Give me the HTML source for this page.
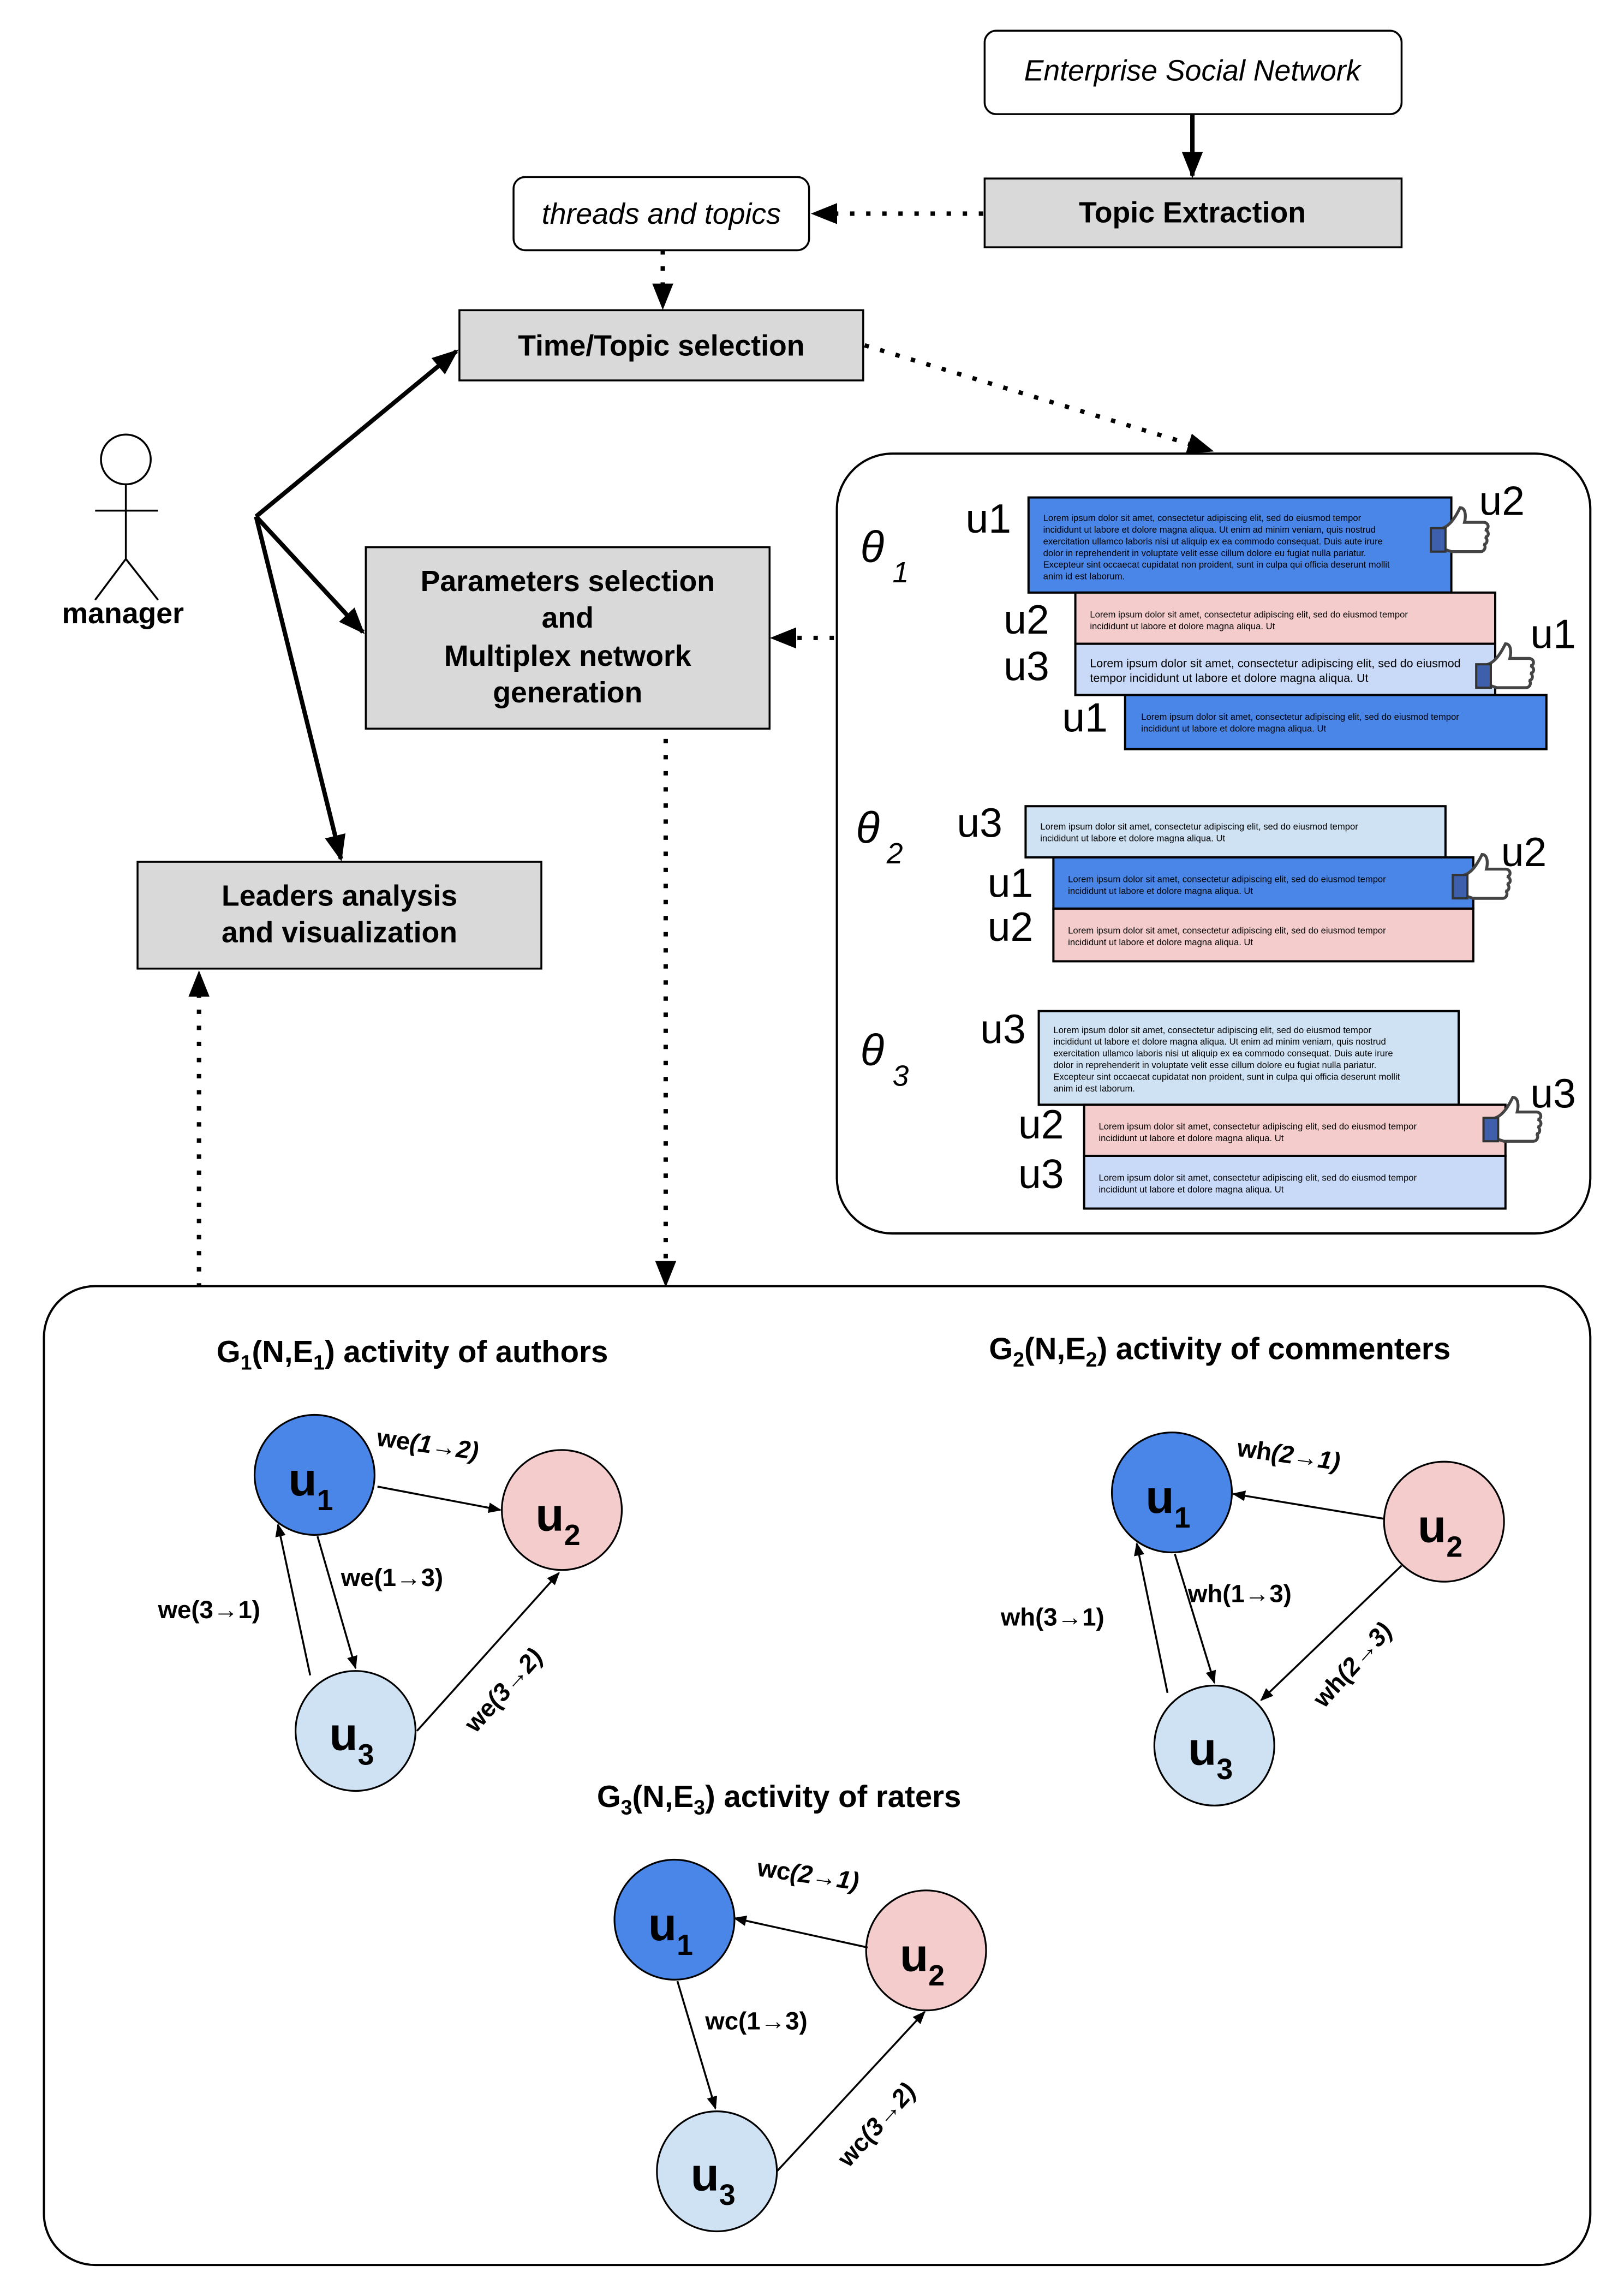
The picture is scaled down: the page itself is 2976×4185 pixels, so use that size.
<!DOCTYPE html>
<html><head><meta charset="utf-8"><style>html,body{margin:0;padding:0;background:#fff}svg{display:block}</style></head>
<body>
<svg width="2976" height="4185" viewBox="0 0 1110 1561" xmlns="http://www.w3.org/2000/svg" font-family="Liberation Sans, Arial, sans-serif">
<defs>
<marker id="ah" viewBox="0 0 10 10" refX="9" refY="5" markerWidth="6" markerHeight="6" orient="auto" markerUnits="userSpaceOnUse"><path d="M0,0 L10,5 L0,10 z" fill="#000"/></marker>
<marker id="ab" viewBox="0 0 10 10" refX="9" refY="5" markerWidth="18" markerHeight="18" orient="auto" markerUnits="userSpaceOnUse"><path d="M0,1 L10,5 L0,9 z" fill="#000"/></marker>
<marker id="as" viewBox="0 0 10 10" refX="9" refY="5" markerWidth="9" markerHeight="9" orient="auto" markerUnits="userSpaceOnUse"><path d="M0,1 L10,5 L0,9 z" fill="#000"/></marker>
<g id="thumb"><path d="M0,14 C6,12 10,4 12,0 C16,0 16,6 15,10 L28,10 C32,10 32,15 29,15 C32,16 32,20 29,20 C31,21 31,25 28,25 C30,26 29,30 26,30 L6,30 L0,28 Z" fill="#fff" stroke="#444" stroke-width="2"/><rect x="-8" y="14" width="10" height="16" fill="#3d5fac" stroke="#333" stroke-width="1.5"/></g>
</defs>
<!-- top boxes -->
<rect x="673" y="21" width="285" height="57" rx="8" fill="#fff" stroke="#000" stroke-width="1.3"/>
<text x="815" y="55" font-size="20" font-style="italic" text-anchor="middle">Enterprise Social Network</text>
<rect x="673" y="122" width="285" height="47" fill="#d9d9d9" stroke="#000" stroke-width="1.3"/>
<text x="815" y="152" font-size="20" font-weight="bold" text-anchor="middle">Topic Extraction</text>
<rect x="351" y="121" width="202" height="50" rx="8" fill="#fff" stroke="#000" stroke-width="1.3"/>
<text x="452" y="153" font-size="20" font-style="italic" text-anchor="middle">threads and topics</text>
<rect x="314" y="212" width="276" height="48" fill="#d9d9d9" stroke="#000" stroke-width="1.3"/>
<text x="452" y="243" font-size="20" font-weight="bold" text-anchor="middle">Time/Topic selection</text>
<rect x="250" y="374" width="276" height="124" fill="#d9d9d9" stroke="#000" stroke-width="1.3"/>
<g font-size="20" font-weight="bold" text-anchor="middle"><text x="388" y="404">Parameters selection</text><text x="388" y="429">and</text><text x="388" y="455">Multiplex network</text><text x="388" y="480">generation</text></g>
<rect x="94" y="589" width="276" height="73" fill="#d9d9d9" stroke="#000" stroke-width="1.3"/>
<g font-size="20" font-weight="bold" text-anchor="middle"><text x="232" y="619">Leaders analysis</text><text x="232" y="644">and visualization</text></g>
<!-- manager -->
<g stroke="#000" stroke-width="1.3" fill="none"><circle cx="86" cy="314" r="17" fill="#fff"/><line x1="86" y1="331" x2="86" y2="382"/><line x1="65" y1="349" x2="108" y2="349"/><line x1="86" y1="382" x2="65" y2="410"/><line x1="86" y1="382" x2="108" y2="410"/></g>
<text x="84" y="426" font-size="20" font-weight="bold" text-anchor="middle">manager</text>
<!-- arrows -->
<g stroke="#000" stroke-width="3" fill="none">
<line x1="815" y1="78" x2="815" y2="120" marker-end="url(#ab)"/>
<line x1="175" y1="353" x2="312" y2="240" marker-end="url(#ab)"/>
<line x1="175" y1="353" x2="248" y2="432" marker-end="url(#ab)"/>
<line x1="175" y1="353" x2="233" y2="587" marker-end="url(#ab)"/>
</g>
<g stroke="#000" stroke-width="3" fill="none" stroke-dasharray="3,8">
<line x1="672" y1="146" x2="556" y2="146" marker-end="url(#ab)"/>
<line x1="453" y1="171" x2="453" y2="210" marker-end="url(#ab)"/>
<line x1="591" y1="236" x2="828" y2="308" marker-end="url(#ab)"/>
<line x1="570" y1="436" x2="528" y2="436" marker-end="url(#ab)"/>
<line x1="455" y1="505" x2="455" y2="878" marker-end="url(#ab)"/>
<line x1="136" y1="880" x2="136" y2="665" marker-end="url(#ab)"/>
</g>
<!-- theta panel -->
<rect x="572" y="310" width="515" height="533" rx="38" fill="#fff" stroke="#000" stroke-width="1.5"/>
<g font-size="30" font-style="italic"><text x="588" y="384">θ</text><text x="610" y="398" font-size="20">1</text>
<text x="585" y="576">θ</text><text x="606" y="590" font-size="20">2</text>
<text x="588" y="728">θ</text><text x="610" y="742" font-size="20">3</text></g>
<g stroke="#000" stroke-width="1.5">
<rect x="703" y="340" width="289" height="65" fill="#4a86e8"/>
<rect x="735" y="405" width="287" height="35" fill="#f4cccc"/>
<rect x="735" y="440" width="287" height="35" fill="#c9daf8"/>
<rect x="769" y="475" width="288" height="37" fill="#4a86e8"/>
<rect x="701" y="551" width="287" height="35" fill="#cfe2f3"/>
<rect x="720" y="586" width="287" height="35" fill="#4a86e8"/>
<rect x="720" y="621" width="287" height="36" fill="#f4cccc"/>
<rect x="710" y="691" width="287" height="64" fill="#cfe2f3"/>
<rect x="741" y="755" width="288" height="35" fill="#f4cccc"/>
<rect x="741" y="790" width="288" height="36" fill="#c9daf8"/>
</g>
<g font-size="6.2">
<text x="713" y="356">Lorem ipsum dolor sit amet, consectetur adipiscing elit, sed do eiusmod tempor</text>
<text x="713" y="364">incididunt ut labore et dolore magna aliqua. Ut enim ad minim veniam, quis nostrud</text>
<text x="713" y="372">exercitation ullamco laboris nisi ut aliquip ex ea commodo consequat. Duis aute irure</text>
<text x="713" y="380">dolor in reprehenderit in voluptate velit esse cillum dolore eu fugiat nulla pariatur.</text>
<text x="713" y="388">Excepteur sint occaecat cupidatat non proident, sunt in culpa qui officia deserunt mollit</text>
<text x="713" y="396">anim id est laborum.</text>
<text x="745" y="422">Lorem ipsum dolor sit amet, consectetur adipiscing elit, sed do eiusmod tempor</text><text x="745" y="430">incididunt ut labore et dolore magna aliqua. Ut</text>
<text x="745" y="456" font-size="8">Lorem ipsum dolor sit amet, consectetur adipiscing elit, sed do eiusmod</text><text x="745" y="466" font-size="8">tempor incididunt ut labore et dolore magna aliqua. Ut</text>
<text x="780" y="492">Lorem ipsum dolor sit amet, consectetur adipiscing elit, sed do eiusmod tempor</text><text x="780" y="500">incididunt ut labore et dolore magna aliqua. Ut</text>
<text x="711" y="567">Lorem ipsum dolor sit amet, consectetur adipiscing elit, sed do eiusmod tempor</text><text x="711" y="575">incididunt ut labore et dolore magna aliqua. Ut</text>
<text x="730" y="603">Lorem ipsum dolor sit amet, consectetur adipiscing elit, sed do eiusmod tempor</text><text x="730" y="611">incididunt ut labore et dolore magna aliqua. Ut</text>
<text x="730" y="638">Lorem ipsum dolor sit amet, consectetur adipiscing elit, sed do eiusmod tempor</text><text x="730" y="646">incididunt ut labore et dolore magna aliqua. Ut</text>
<text x="720" y="706">Lorem ipsum dolor sit amet, consectetur adipiscing elit, sed do eiusmod tempor</text>
<text x="720" y="714">incididunt ut labore et dolore magna aliqua. Ut enim ad minim veniam, quis nostrud</text>
<text x="720" y="722">exercitation ullamco laboris nisi ut aliquip ex ea commodo consequat. Duis aute irure</text>
<text x="720" y="730">dolor in reprehenderit in voluptate velit esse cillum dolore eu fugiat nulla pariatur.</text>
<text x="720" y="738">Excepteur sint occaecat cupidatat non proident, sunt in culpa qui officia deserunt mollit</text>
<text x="720" y="746">anim id est laborum.</text>
<text x="751" y="772">Lorem ipsum dolor sit amet, consectetur adipiscing elit, sed do eiusmod tempor</text><text x="751" y="780">incididunt ut labore et dolore magna aliqua. Ut</text>
<text x="751" y="807">Lorem ipsum dolor sit amet, consectetur adipiscing elit, sed do eiusmod tempor</text><text x="751" y="815">incididunt ut labore et dolore magna aliqua. Ut</text>
</g>
<g font-size="28">
<text x="660" y="364">u1</text><text x="686" y="433">u2</text><text x="686" y="465">u3</text><text x="726" y="500">u1</text>
<text x="654" y="572">u3</text><text x="675" y="613">u1</text><text x="675" y="643">u2</text>
<text x="670" y="713">u3</text><text x="696" y="778">u2</text><text x="696" y="812">u3</text>
<text x="1011" y="352">u2</text><text x="1046" y="443">u1</text><text x="1026" y="592">u2</text><text x="1046" y="757">u3</text>
</g>
<use href="#thumb" x="986" y="347"/>
<use href="#thumb" x="1017" y="440"/>
<use href="#thumb" x="1001" y="584"/>
<use href="#thumb" x="1022" y="750"/>
<!-- bottom panel -->
<rect x="30" y="879" width="1057" height="669" rx="35" fill="#fff" stroke="#000" stroke-width="1.5"/>
<g font-size="21" font-weight="bold">
<text x="148" y="931">G<tspan font-size="14" dy="5">1</tspan><tspan dy="-5">(N,E</tspan><tspan font-size="14" dy="5">1</tspan><tspan dy="-5">) activity of authors</tspan></text>
<text x="676" y="929">G<tspan font-size="14" dy="5">2</tspan><tspan dy="-5">(N,E</tspan><tspan font-size="14" dy="5">2</tspan><tspan dy="-5">) activity of commenters</tspan></text>
<text x="408" y="1235">G<tspan font-size="14" dy="5">3</tspan><tspan dy="-5">(N,E</tspan><tspan font-size="14" dy="5">3</tspan><tspan dy="-5">) activity of raters</tspan></text>
</g>
<g stroke="#000" stroke-width="1.2">
<circle cx="215" cy="1008" r="41" fill="#4a86e8"/><circle cx="384" cy="1032" r="41" fill="#f4cccc"/><circle cx="243" cy="1183" r="41" fill="#cfe2f3"/>
<circle cx="801" cy="1020" r="41" fill="#4a86e8"/><circle cx="987" cy="1040" r="41" fill="#f4cccc"/><circle cx="830" cy="1193" r="41" fill="#cfe2f3"/>
<circle cx="461" cy="1312" r="41" fill="#4a86e8"/><circle cx="633" cy="1333" r="41" fill="#f4cccc"/><circle cx="490" cy="1484" r="41" fill="#cfe2f3"/>
</g>
<g font-size="32" font-weight="bold">
<text x="197" y="1022">u<tspan font-size="20" dy="10">1</tspan></text><text x="366" y="1046">u<tspan font-size="20" dy="10">2</tspan></text><text x="225" y="1196">u<tspan font-size="20" dy="10">3</tspan></text>
<text x="783" y="1034">u<tspan font-size="20" dy="10">1</tspan></text><text x="969" y="1054">u<tspan font-size="20" dy="10">2</tspan></text><text x="812" y="1206">u<tspan font-size="20" dy="10">3</tspan></text>
<text x="443" y="1326">u<tspan font-size="20" dy="10">1</tspan></text><text x="615" y="1347">u<tspan font-size="20" dy="10">2</tspan></text><text x="472" y="1497">u<tspan font-size="20" dy="10">3</tspan></text>
</g>
<g stroke="#000" stroke-width="1.3" fill="none">
<line x1="258" y1="1016" x2="342" y2="1032" marker-end="url(#as)"/>
<line x1="217" y1="1050" x2="243" y2="1140" marker-end="url(#as)"/>
<line x1="212" y1="1145" x2="190" y2="1042" marker-end="url(#as)"/>
<line x1="285" y1="1183" x2="382" y2="1075" marker-end="url(#as)"/>
<line x1="946" y1="1038" x2="843" y2="1021" marker-end="url(#as)"/>
<line x1="803" y1="1062" x2="830" y2="1150" marker-end="url(#as)"/>
<line x1="798" y1="1157" x2="777" y2="1055" marker-end="url(#as)"/>
<line x1="958" y1="1070" x2="862" y2="1162" marker-end="url(#as)"/>
<line x1="593" y1="1331" x2="502" y2="1311" marker-end="url(#as)"/>
<line x1="463" y1="1354" x2="489" y2="1441" marker-end="url(#as)"/>
<line x1="531" y1="1484" x2="632" y2="1375" marker-end="url(#as)"/>
</g>
<g font-size="17" font-weight="bold">
<text x="257" y="988" transform="rotate(8 257 988)">we<tspan font-style="italic">(1→2)</tspan></text>
<text x="233" y="1084">we(1→3)</text>
<text x="108" y="1106">we(3→1)</text>
<text x="325" y="1185" transform="rotate(-48 325 1185)">we<tspan font-style="italic">(3→2)</tspan></text>
<text x="845" y="995" transform="rotate(8 845 995)">wh<tspan font-style="italic">(2→1)</tspan></text>
<text x="812" y="1095">wh(1→3)</text>
<text x="684" y="1111">wh(3→1)</text>
<text x="905" y="1168" transform="rotate(-48 905 1168)">wh<tspan font-style="italic">(2→3)</tspan></text>
<text x="517" y="1282" transform="rotate(8 517 1282)">wc<tspan font-style="italic">(2→1)</tspan></text>
<text x="482" y="1387">wc(1→3)</text>
<text x="580" y="1482" transform="rotate(-48 580 1482)">wc<tspan font-style="italic">(3→2)</tspan></text>
</g>
</svg>
</body></html>
